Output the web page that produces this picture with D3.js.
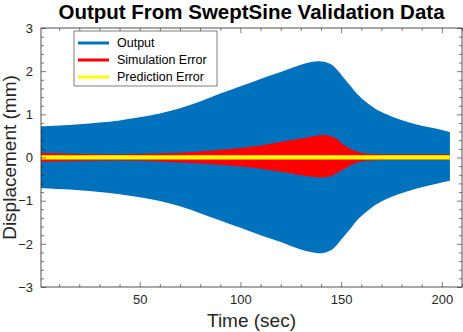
<!DOCTYPE html>
<html>
<head>
<meta charset="utf-8">
<script src="https://cdn.jsdelivr.net/npm/d3@7"></script>
<style>
  body { margin: 0; background: #fff; }
  text { font-family: "Liberation Sans", Arial, sans-serif; }
</style>
</head>
<body>
<svg id="chart" width="463" height="332"></svg>
<script>
// envelope of the swept sine output (mm)
const outputTime  = [1, 10, 20, 30, 40, 50, 60, 70, 80, 90, 100, 110, 120, 125, 130, 135, 139, 142, 145.5, 148, 151, 155, 158, 163, 168, 178, 188, 198, 204];
const outputUpper = [0.72, 0.74, 0.77, 0.81, 0.86, 0.93, 1.02, 1.14, 1.30, 1.48, 1.65, 1.82, 1.98, 2.07, 2.15, 2.21, 2.23, 2.21, 2.14, 2.03, 1.86, 1.64, 1.47, 1.26, 1.10, 0.90, 0.76, 0.66, 0.59];
const outputLower = [-0.71, -0.73, -0.76, -0.80, -0.85, -0.92, -1.01, -1.13, -1.29, -1.46, -1.63, -1.80, -1.96, -2.05, -2.13, -2.19, -2.22, -2.20, -2.13, -2.02, -1.85, -1.63, -1.45, -1.24, -1.07, -0.86, -0.71, -0.60, -0.54];

const simTime  = [1, 20, 40, 60, 80, 100, 110, 120, 130, 137, 142, 145, 148, 151, 156, 160, 165, 180, 204];
const simUpper = [0.11, 0.08, 0.07, 0.09, 0.14, 0.22, 0.28, 0.36, 0.44, 0.50, 0.52, 0.49, 0.42, 0.30, 0.17, 0.11, 0.08, 0.07, 0.07];
const simLower = [-0.10, -0.08, -0.07, -0.09, -0.14, -0.21, -0.26, -0.33, -0.41, -0.45, -0.46, -0.43, -0.36, -0.28, -0.15, -0.09, -0.07, -0.06, -0.06];

const predTime  = [1, 50, 100, 150, 204];
const predUpper = [0.055, 0.055, 0.055, 0.055, 0.055];
const predLower = [-0.045, -0.045, -0.045, -0.045, -0.045];

const xTicks = [50, 100, 150, 200];
const yTicks = [-3, -2, -1, 0, 1, 2, 3];
const legendLabels = ["Output", "Simulation Error", "Prediction Error"];
const seriesColors = ["#0072BD", "#FF0000", "#FFFF00"];

const svg = d3.select("#chart");
const margin = {left: 41, right: 1, top: 28, bottom: 45};
const width = 463, height = 332;
const ink = "#262626";

const x = d3.scaleLinear().domain([1, 210]).range([margin.left, width - margin.right]);
const y = d3.scaleLinear().domain([-3, 3]).range([height - margin.bottom, margin.top]);

const band = (t, up, lo) => t.map((d, i) => ({t: d, up: up[i], lo: lo[i]}));
const area = d3.area()
  .x(d => x(d.t))
  .y0(d => y(d.lo))
  .y1(d => y(d.up))
  .curve(d3.curveCatmullRom.alpha(0.5));

const plot = svg.append("g");
plot.append("path").datum(band(outputTime, outputUpper, outputLower))
  .attr("d", area).attr("fill", seriesColors[0]);
plot.append("path").datum(band(simTime, simUpper, simLower))
  .attr("d", area).attr("fill", seriesColors[1]);
plot.append("path").datum(band(predTime, predUpper, predLower))
  .attr("d", area).attr("fill", seriesColors[2]);

// axes, ticks inside on all four sides
const xMinor = d3.range(10, 211, 10).filter(v => !xTicks.includes(v));
const yMinor = d3.range(-3, 3.001, 0.2).map(v => +v.toFixed(1)).filter(v => !yTicks.includes(v));

function addAxis(axis, transform, values, size, labels) {
  const g = svg.append("g").attr("transform", transform)
    .call(axis.tickValues(values).tickSizeInner(size).tickSizeOuter(0)
      .tickPadding(labels ? 8 : 0)
      .tickFormat(labels ? d3.format("d") : ""));
  g.select(".domain").remove();
  g.selectAll("line").attr("stroke", ink).attr("stroke-width", 0.6);
  g.selectAll("text").attr("fill", ink).style("font-size", "13px");
  return g;
}
const bottomY = height - margin.bottom, rightX = width - margin.right;
addAxis(d3.axisBottom(x), `translate(0,${bottomY})`, xTicks, -5, true);
addAxis(d3.axisBottom(x), `translate(0,${bottomY})`, xMinor, -3, false);
addAxis(d3.axisTop(x), `translate(0,${margin.top})`, xTicks, -5, false);
addAxis(d3.axisTop(x), `translate(0,${margin.top})`, xMinor, -3, false);
addAxis(d3.axisLeft(y), `translate(${margin.left},0)`, yTicks, -5, true);
addAxis(d3.axisLeft(y), `translate(${margin.left},0)`, yMinor, -3, false);
addAxis(d3.axisRight(y), `translate(${rightX},0)`, yTicks, -5, false);
addAxis(d3.axisRight(y), `translate(${rightX},0)`, yMinor, -3, false);

svg.append("rect")
  .attr("x", margin.left).attr("y", margin.top)
  .attr("width", rightX - margin.left).attr("height", bottomY - margin.top)
  .attr("fill", "none").attr("stroke", ink).attr("stroke-width", 0.8);

// title and labels
svg.append("text")
  .attr("x", (margin.left + rightX) / 2).attr("y", 19)
  .attr("text-anchor", "middle")
  .style("font-size", "20.5px").style("font-weight", "bold")
  .text("Output From SweptSine Validation Data");

svg.append("text")
  .attr("x", (margin.left + rightX) / 2).attr("y", 327)
  .attr("text-anchor", "middle").attr("fill", ink)
  .style("font-size", "19px")
  .text("Time (sec)");

svg.append("text")
  .attr("transform", `translate(16,${(margin.top + bottomY) / 2}) rotate(-90)`)
  .attr("text-anchor", "middle").attr("fill", ink)
  .style("font-size", "19px")
  .text("Displacement (mm)");

// legend
const legend = svg.append("g").attr("transform", "translate(74,31)");
legend.append("rect")
  .attr("width", 143).attr("height", 55)
  .attr("fill", "#fff").attr("stroke", ink).attr("stroke-width", 0.6);
const item = legend.selectAll("g.item").data(legendLabels).enter()
  .append("g").attr("class", "item")
  .attr("transform", (d, i) => `translate(0,${12 + i * 17})`);
item.append("line")
  .attr("x1", 4).attr("x2", 35)
  .attr("stroke", (d, i) => seriesColors[i]).attr("stroke-width", 3);
item.append("text")
  .attr("x", 43).attr("dy", "0.35em")
  .attr("fill", "#000")
  .style("font-size", "12.5px")
  .text(d => d);
</script>
</body>
</html>
